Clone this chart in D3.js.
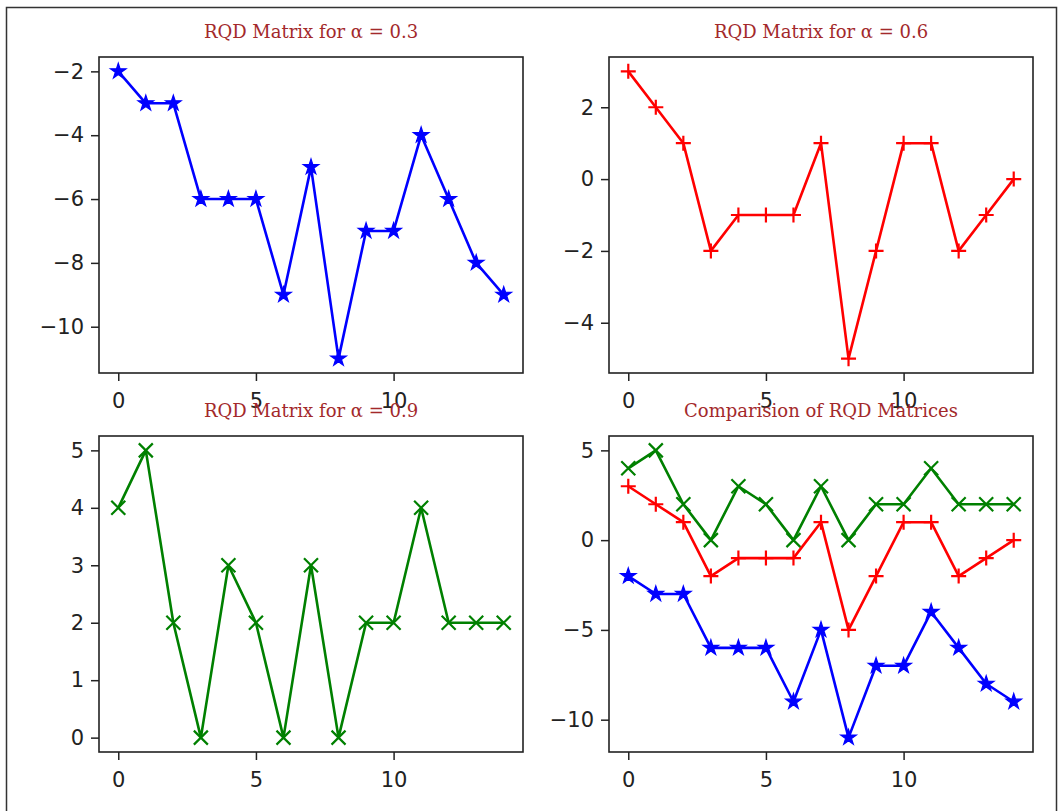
<!DOCTYPE html>
<html>
<head>
<meta charset="utf-8">
<script src="https://cdn.jsdelivr.net/npm/d3@7"></script>
<style>
  body { margin: 0; background: #fff; }
  .tick text { font-family: "DejaVu Sans", sans-serif; fill: #222; }
  .tick line { stroke: #222; }
</style>
</head>
<body>
<svg id="fig" width="1060" height="811"></svg>
<script>
// values
const steps = d3.range(0, 15);
const rqd03 = [-2, -3, -3, -6, -6, -6, -9, -5, -11, -7, -7, -4, -6, -8, -9];
const rqd06 = [3, 2, 1, -2, -1, -1, -1, 1, -5, -2, 1, 1, -2, -1, 0];
const rqd09 = [4, 5, 2, 0, 3, 2, 0, 3, 0, 2, 2, 4, 2, 2, 2];
const xTicks = [0, 5, 10];
const titles = ["RQD Matrix for α = 0.3", "RQD Matrix for α = 0.6", "RQD Matrix for α = 0.9", "Comparision of RQD Matrices"];

const s03 = {values: rqd03, color: "#0000ff", marker: "star"},
      s06 = {values: rqd06, color: "#ff0000", marker: "plus"},
      s09 = {values: rqd09, color: "#008000", marker: "cross"};

const svg = d3.select("#fig");

// frame around the screenshot
svg.append("rect")
    .attr("x", 6.5).attr("y", 7.5)
    .attr("width", 1050).attr("height", 820)
    .attr("fill", "none").attr("stroke", "#333").attr("stroke-width", 1.5);

const cols = [99, 609], rows = [57, 436],
      w = 424, h = 316;

const panels = [
    {series: [s03], col: 0, row: 0, title: titles[0]},
    {series: [s06], col: 1, row: 0, title: titles[1]},
    {series: [s09], col: 0, row: 1, title: titles[2]},
    {series: [s09, s06, s03], col: 1, row: 1, title: titles[3]}
];

function drawMarker(g, type, color) {
    if (type === "star") {
        g.append("path")
            .attr("d", d3.symbol(d3.symbolStar, 75)())
            .attr("fill", color).attr("stroke", color).attr("stroke-width", 1.2);
    } else if (type === "plus") {
        g.append("path").attr("d", "M-7.5,0H7.5M0,-7.5V7.5")
            .attr("stroke", color).attr("stroke-width", 2.2).attr("fill", "none");
    } else {
        g.append("path").attr("d", "M-7,-7L7,7M-7,7L7,-7")
            .attr("stroke", color).attr("stroke-width", 2.2).attr("fill", "none");
    }
}

panels.forEach(function(p) {
    const g = svg.append("g").attr("transform", "translate(" + cols[p.col] + "," + rows[p.row] + ")");

    const all = p.series.flatMap(s => s.values);
    const lo = d3.min(all), hi = d3.max(all), pad = (hi - lo) * 0.05;

    const x = d3.scaleLinear().domain([-0.7, 14.7]).range([0, w]),
          y = d3.scaleLinear().domain([lo - pad, hi + pad]).range([h, 0]);

    const yStep = (hi - lo) > 12 ? 5 : ((hi - lo) > 6 ? 2 : 1);
    const yTicks = d3.range(Math.ceil(lo / yStep) * yStep, hi + 0.001, yStep);

    g.append("g")
        .attr("transform", "translate(0," + h + ")")
        .call(d3.axisBottom(x).tickValues(xTicks).tickSize(8).tickPadding(12).tickSizeOuter(0).tickFormat(d3.format("d")))
        .call(a => a.select(".domain").remove())
        .selectAll("text").style("font-size", "21px");

    g.append("g")
        .call(d3.axisLeft(y).tickValues(yTicks).tickSize(8).tickPadding(7).tickSizeOuter(0)
              .tickFormat(d => d < 0 ? "\u2212" + Math.abs(d) : d))
        .call(a => a.select(".domain").remove())
        .selectAll("text").style("font-size", "21px");

    g.selectAll(".tick line").attr("stroke-width", 1.5);

    const line = d3.line()
        .x((d, i) => x(steps[i]))
        .y(d => y(d));

    p.series.forEach(function(s) {
        g.append("path")
            .datum(s.values)
            .attr("d", line)
            .attr("fill", "none")
            .attr("stroke", s.color)
            .attr("stroke-width", 2.6)
            .attr("stroke-linejoin", "round");

        s.values.forEach(function(v, i) {
            const m = g.append("g").attr("transform", "translate(" + x(steps[i]) + "," + y(v) + ")");
            drawMarker(m, s.marker, s.color);
        });
    });

    g.append("rect")
        .attr("width", w).attr("height", h)
        .attr("fill", "none").attr("stroke", "#222").attr("stroke-width", 1.6);

    svg.append("text")
        .attr("x", cols[p.col] + w / 2)
        .attr("y", rows[p.row] - 19)
        .attr("text-anchor", "middle")
        .attr("font-family", "DejaVu Serif, serif")
        .attr("font-size", "18px")
        .attr("fill", "#a3292b")
        .text(p.title);
});
</script>
</body>
</html>
